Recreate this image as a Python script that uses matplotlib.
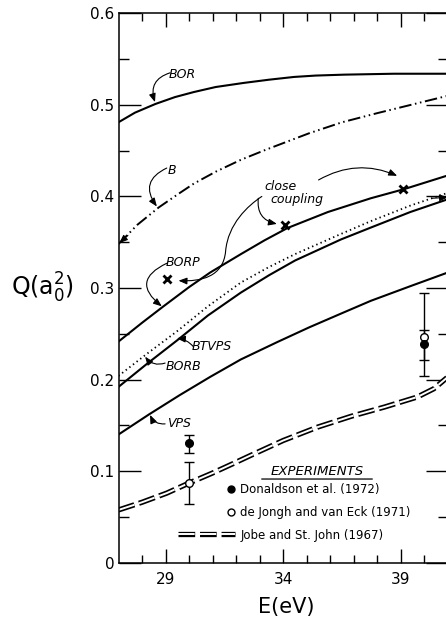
import matplotlib
matplotlib.use("Agg")
import matplotlib.pyplot as plt
import numpy as np
from matplotlib.path import Path
from matplotlib.patches import FancyArrowPatch
from matplotlib.lines import Line2D
from matplotlib.legend_handler import HandlerTuple

plt.rcParams['font.family'] = ['DejaVu Sans']
plt.rcParams['lines.scale_dashes'] = False

# ---------------- data ----------------
E_bor = [27.0, 27.7, 28.57, 29.4, 30.2, 31.13, 32.33, 33.4, 34.46, 35.38, 36.59, 38.7, 41.0]
Q_bor = [0.481, 0.4915, 0.501, 0.5085, 0.514, 0.5195, 0.524, 0.5275, 0.5305, 0.532, 0.533, 0.534, 0.534]

E_b = [27.0, 27.8, 28.71, 29.5, 30.2, 31.13, 32.2, 33.26, 35.1, 36.5, 38.0, 41.0]
Q_b = [0.348, 0.369, 0.388, 0.402, 0.414, 0.427, 0.440, 0.451, 0.469, 0.481, 0.491, 0.510]

E_borp = [27.0, 28.0, 28.86, 30.0, 30.9, 32.2, 33.2, 34.18, 35.9, 37.72, 39.14, 41.0]
Q_borp = [0.2415, 0.262, 0.279, 0.301, 0.317, 0.337, 0.352, 0.3655, 0.383, 0.398, 0.408, 0.423]

E_btvps = [27.0, 28.2, 29.5, 30.8, 32.2, 33.4, 34.5, 36.45, 37.72, 39.4, 41.0]
Q_btvps = [0.204, 0.228, 0.253, 0.280, 0.306, 0.323, 0.337, 0.359, 0.373, 0.390, 0.404]

E_borb = [27.0, 28.2, 29.5, 30.8, 32.2, 33.4, 34.5, 36.45, 37.72, 39.4, 41.0]
Q_borb = [0.192, 0.217, 0.243, 0.270, 0.295, 0.314, 0.330, 0.353, 0.366, 0.383, 0.397]

E_vps = [27.0, 28.3, 29.6, 30.9, 32.2, 33.75, 35.1, 36.45, 37.72, 39.4, 41.0]
Q_vps = [0.140, 0.162, 0.183, 0.203, 0.222, 0.241, 0.257, 0.272, 0.286, 0.302, 0.317]

E_jobe = [27.0, 28.0, 29.05, 30.0, 31.0, 31.85, 32.6, 34.0, 35.45, 36.9, 38.3, 39.7, 40.4, 41.0]
Q_jobe = [0.0576, 0.066, 0.076, 0.087, 0.098, 0.108, 0.117, 0.1335, 0.148, 0.160, 0.170, 0.181, 0.190, 0.203]

E_don = [30.0, 40.0]
Q_don = [0.1305, 0.239]
Q_don_lo = [0.011, 0.018]
Q_don_hi = [0.0095, 0.015]

E_jongh = [30.0, 40.0]
Q_jongh = [0.0874, 0.246]
Q_jongh_lo = [0.0234, 0.042]
Q_jongh_hi = [0.0226, 0.048]

E_cc = [29.05, 34.09, 39.09]
Q_cc = [0.310, 0.369, 0.408]

x_major = [29, 34, 39]
x_minor = [28, 30, 31, 32, 33, 35, 36, 37, 38, 40]
y_major = [0.0, 0.1, 0.2, 0.3, 0.4, 0.5, 0.6]
y_labels = ['0', '0.1', '0.2', '0.3', '0.4', '0.5', '0.6']
y_minor = [0.05, 0.15, 0.25, 0.35, 0.45, 0.55]

legend_labels = ['Donaldson et al. (1972)', 'de Jongh and van Eck (1971)',
                 'Jobe and St. John (1967)']

# ---------------- figure ----------------
W, H = 446, 618
fig = plt.figure(figsize=(W / 100, H / 100), dpi=100)
ax = fig.add_axes([118.5 / W, 55.3 / H, 329.5 / W, 549.4 / H])
ax.set_xlim(27, 41)
ax.set_ylim(0, 0.6)

lw = 1.5
ax.plot(E_bor, Q_bor, color='k', lw=lw)
ax.plot(E_b, Q_b, color='k', lw=1.4, dashes=(9, 2.6, 1.1, 2.6, 1.1, 2.6))
ax.plot(E_borp, Q_borp, color='k', lw=lw)
ax.plot(E_btvps, Q_btvps, color='k', lw=1.3, dashes=(1.0, 2.3))
ax.plot(E_borb, Q_borb, color='k', lw=lw)
ax.plot(E_vps, Q_vps, color='k', lw=lw)
ax.plot(E_jobe, Q_jobe, color='k', lw=3.8, dashes=(12, 3.5), dash_capstyle='butt')
ax.plot(E_jobe, Q_jobe, color='w', lw=1.4, dashes=(12, 3.5), dash_capstyle='butt')

ax.errorbar(E_jongh, Q_jongh, yerr=[Q_jongh_lo, Q_jongh_hi], fmt='o', color='k',
            mfc='white', mec='k', ms=5.5, mew=1.0, capsize=3.6, elinewidth=1.0,
            capthick=1.0, zorder=5)
ax.errorbar(E_don, Q_don, yerr=[Q_don_lo, Q_don_hi], fmt='o', color='k',
            ms=5.5, capsize=3.6, elinewidth=1.0, capthick=1.0, zorder=5)
ax.plot(E_cc, Q_cc, 'kx', ms=5.5, mew=2.0)

# ---------------- axes styling ----------------
for s in ax.spines.values():
    s.set_linewidth(1.1)
ax.set_xticks(x_major)
ax.set_xticks(x_minor, minor=True)
ax.set_yticks(y_major)
ax.set_yticklabels(y_labels)
ax.set_yticks(y_minor, minor=True)
ax.tick_params(which='both', direction='in', top=True, right=True, width=1.0,
               labelsize=11)
ax.tick_params(axis='y', which='major', length=16, pad=3)
ax.tick_params(axis='y', which='minor', length=7.5)
ax.tick_params(axis='x', which='major', length=10, pad=7)
ax.tick_params(axis='x', which='minor', length=5.5)

ax.set_xlabel('E(eV)', fontsize=15)
ax.xaxis.set_label_coords(0.51, -0.062)
ax.set_ylabel(r'Q(a$_\mathregular{0}^\mathregular{2}$)', fontsize=17, rotation=0,
              ha='center', va='center')
ax.yaxis.set_label_coords(-0.232, 0.5)

# ---------------- curve labels and arrows ----------------
lab = dict(fontsize=9, style='italic', ha='center', va='center')
ax.text(29.72, 0.533, 'BOR', **lab)
ax.text(29.29, 0.4284, 'B', **lab)
ax.text(33.87, 0.411, 'close', **lab)
ax.text(34.58, 0.397, 'coupling', **lab)
ax.text(29.76, 0.328, 'BORP', **lab)
ax.text(30.97, 0.236, 'BTVPS', **lab)
ax.text(29.76, 0.214, 'BORB', **lab)
ax.text(29.55, 0.152, 'VPS', **lab)

def arr(start, end, rad):
    ax.annotate('', xy=end, xytext=start, annotation_clip=False,
                arrowprops=dict(arrowstyle='-|>,head_length=0.5,head_width=0.2',
                                connectionstyle=f'arc3,rad={rad}', lw=0.8,
                                color='k', shrinkA=0, shrinkB=0,
                                mutation_scale=10))

arr((29.19, 0.535), (28.55, 0.503), 0.5)
arr((29.05, 0.431), (28.63, 0.389), 0.6)
arr((29.05, 0.327), (28.84, 0.280), 0.8)
arr((35.5, 0.418), (38.84, 0.4225), -0.25)
arr((32.94, 0.398), (33.73, 0.370), 0.45)
arr((30.18, 0.236), (29.48, 0.245), 0.2)
arr((28.98, 0.218), (28.13, 0.225), -0.35)
arr((28.98, 0.1516), (28.34, 0.1614), -0.35)
arr((27.4, 0.3575), (27.03, 0.349), 0.0)
arr((40.3, 0.398), (41.0, 0.399), 0.0)

verts = [(33.09, 0.400), (32.5, 0.39), (31.65, 0.37), (31.55, 0.34),
         (31.45, 0.312), (30.5, 0.307), (29.55, 0.308)]
codes = [Path.MOVETO] + [Path.CURVE4] * 6
sarrow = FancyArrowPatch(path=Path(verts, codes),
                         arrowstyle='-|>,head_length=0.5,head_width=0.2',
                         mutation_scale=10, lw=0.8, color='k')
ax.add_patch(sarrow)

# ---------------- experiments legend ----------------
ax.text(0.6024, 0.1656, 'EXPERIMENTS', transform=ax.transAxes, fontsize=9.5,
        style='italic', ha='center', va='center')
ax.annotate('', xy=(0.4346, 0.1523), xytext=(0.7703, 0.1523),
            xycoords='axes fraction',
            arrowprops=dict(arrowstyle='-', lw=0.9, shrinkA=0, shrinkB=0))

h_don = Line2D([], [], ls='none', marker='o', color='k', ms=5)
h_jon = Line2D([], [], ls='none', marker='o', mfc='white', mec='k', ms=5, mew=1.0)
leg1 = ax.legend([h_don, h_jon], legend_labels[:2], loc='center left',
                 bbox_to_anchor=(0.3223, 0.1118), frameon=False, fontsize=8.5,
                 handlelength=1.0, handletextpad=0.3, borderpad=0,
                 borderaxespad=0, labelspacing=0.84, numpoints=1)
ax.add_artist(leg1)
h_j1 = Line2D([], [], color='k', lw=3.8, dashes=(12, 3.5), dash_capstyle='butt')
h_j2 = Line2D([], [], color='w', lw=1.4, dashes=(12, 3.5), dash_capstyle='butt')
ax.legend([(h_j1, h_j2)], legend_labels[2:], loc='center left',
          bbox_to_anchor=(0.1815, 0.0504), frameon=False, fontsize=8.5,
          handlelength=4.8, handletextpad=0.48, borderpad=0, borderaxespad=0,
          handler_map={tuple: HandlerTuple(ndivide=1, pad=0)})

fig.savefig('out.png', dpi=100)
